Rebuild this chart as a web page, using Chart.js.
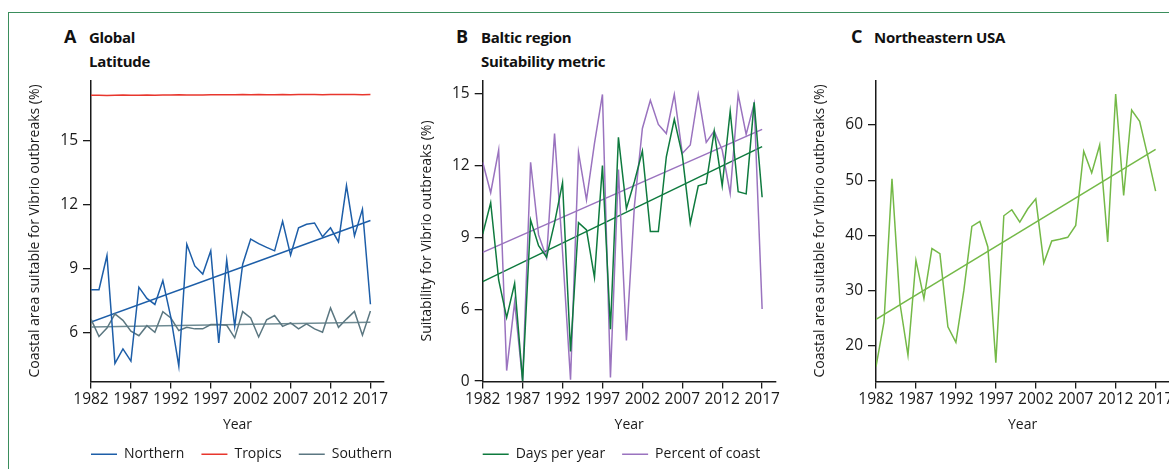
<!DOCTYPE html>
<html>
<head>
<meta charset="utf-8">
<script src="https://cdn.jsdelivr.net/npm/chart.js@4.4.0/dist/chart.umd.min.js"></script>
<style>
  body { margin:0; width:1169px; height:469px; overflow:hidden; background:#fff; position:relative; font-family:'Open Sans', sans-serif; }
  .frame { position:absolute; left:8px; top:12px; width:1300px; height:600px; border-top:1px solid #3a8d5c; border-left:1px solid #3a8d5c; }
  canvas { position:absolute; }
  .letter { position:absolute; font-weight:700; font-size:18px; line-height:18px; color:#111; }
  .head { position:absolute; font-weight:700; font-size:15px; line-height:15px; color:#111; letter-spacing:-0.3px; white-space:nowrap; }
</style>
</head>
<body>
<div class="frame"></div>

<div class="letter" style="left:64px;top:27px">A</div>
<div class="head" style="left:89px;top:30px">Global</div>
<div class="head" style="left:89px;top:54px">Latitude</div>

<div class="letter" style="left:456px;top:27px">B</div>
<div class="head" style="left:481px;top:30px">Baltic region</div>
<div class="head" style="left:481px;top:54px">Suitability metric</div>

<div class="letter" style="left:851px;top:27px">C</div>
<div class="head" style="left:874px;top:30px">Northeastern USA</div>

<canvas id="chartA" width="395" height="408" style="left:0px;top:66px"></canvas>
<canvas id="chartB" width="392" height="408" style="left:392px;top:66px"></canvas>
<canvas id="chartC" width="420" height="408" style="left:785px;top:66px"></canvas>

<script>
// years on the x axis
var years = [1982, 1983, 1984, 1985, 1986, 1987, 1988, 1989, 1990, 1991,
             1992, 1993, 1994, 1995, 1996, 1997, 1998, 1999, 2000, 2001,
             2002, 2003, 2004, 2005, 2006, 2007, 2008, 2009, 2010, 2011,
             2012, 2013, 2014, 2015, 2016, 2017];
var xTicks = [1982, 1987, 1992, 1997, 2002, 2007, 2012, 2017];
var trendYears = [1982, 2017];

// A - global, by latitude band
var northern = [8.0, 8.0, 9.61, 4.54, 5.22, 4.64, 8.12, 7.59, 7.31, 8.43,
                6.7, 4.41, 10.14, 9.12, 8.74, 9.83, 5.50, 9.40, 6.28, 9.2,
                10.38, 10.17, 9.99, 9.83, 11.22, 9.63, 10.91, 11.08, 11.14, 10.49,
                10.91, 10.25, 12.9, 10.53, 11.79, 7.32];
var tropics = [17.15, 17.15, 17.14, 17.15, 17.16, 17.15, 17.15, 17.16, 17.15, 17.16,
               17.16, 17.17, 17.16, 17.16, 17.16, 17.17, 17.17, 17.17, 17.17, 17.18,
               17.17, 17.18, 17.17, 17.17, 17.18, 17.17, 17.18, 17.18, 17.18, 17.17,
               17.18, 17.18, 17.18, 17.18, 17.17, 17.18];
var southern = [6.62, 5.80, 6.20, 6.86, 6.56, 6.05, 5.84, 6.31, 6.0, 6.97,
                6.67, 6.08, 6.23, 6.16, 6.16, 6.36, 6.36, 6.33, 5.74, 6.97,
                6.67, 5.78, 6.59, 6.79, 6.28, 6.44, 6.16, 6.39, 6.16, 6.0,
                7.14, 6.23, 6.62, 6.98, 5.86, 7.0];
var northernTrend = [6.48, 11.26];
var southernTrend = [6.25, 6.47];
var yTicksA = [6, 9, 12, 15];
var yLabelsA = ['6', '9', '12', '15'];

// B - Baltic region (bottom tick is printed as 0 in the original)
var daysPerYear = [9.14, 10.44, 7.22, 5.65, 7.08, 3.0, 9.72, 8.65, 8.17, 9.6,
                   11.28, 4.24, 9.61, 9.31, 7.33, 11.99, 5.17, 13.17, 10.2, 11.32,
                   12.6, 9.24, 9.24, 12.36, 13.92, 12.43, 9.58, 11.15, 11.25, 13.43,
                   11.15, 14.26, 10.9, 10.81, 14.63, 10.67];
var percentCoast = [12.13, 10.86, 12.64, 3.44, 6.29, 3.0, 12.13, 9.1, 8.15, 13.33,
                    8.4, 3.06, 12.54, 10.56, 12.92, 14.96, 3.15, 11.83, 4.7, 10.3,
                    13.54, 14.72, 13.71, 13.33, 14.96, 12.5, 12.85, 14.96, 12.96, 13.43,
                    12.64, 10.83, 14.96, 13.29, 14.58, 6.01];
var daysTrend = [7.15, 12.78];
var percentTrend = [8.37, 13.5];
var yTicksB = [3, 6, 9, 12, 15];
var yLabelsB = ['0', '6', '9', '12', '15'];

// C - northeastern USA
var neUSA = [16.2, 24.3, 50.24, 27.65, 18.3, 35.48, 28.55, 37.6, 36.69, 23.43,
             20.6, 30.06, 41.63, 42.53, 37.89, 16.93, 43.55, 44.64, 42.41, 44.82,
             46.63, 35.0, 38.98, 39.28, 39.64, 41.81, 55.24, 51.33, 56.39, 38.8,
             65.6, 47.23, 62.71, 60.66, 54.5, 48.01];
var neUSATrend = [24.76, 55.6];
var yTicksC = [20, 30, 40, 50, 60];
var yLabelsC = ['20', '30', '40', '50', '60'];

var ink = '#1a1a1a';
Chart.defaults.font.family = "'Open Sans', sans-serif";
Chart.defaults.color = ink;

function points(xs, ys) {
  return xs.map(function(x, i){ return {x: x, y: ys[i]}; });
}

function line(label, xs, ys, color) {
  return {
    label: label,
    data: points(xs, ys),
    borderColor: color,
    backgroundColor: color,
    borderWidth: 1.5,
    pointRadius: 0,
    tension: 0,
    fill: false
  };
}

// shifts the legend box after layout so it sits where the original has it
var legendShift = {
  id: 'legendShift',
  afterLayout: function(chart, args, opts) {
    var l = chart.legend;
    if (!l) return;
    var dx = opts.dx || 0, dy = opts.dy || 0;
    l.left += dx; l.right += dx; l.top += dy; l.bottom += dy;
  }
};

function xScale() {
  return {
    type: 'linear',
    min: 1982,
    max: 2018.7,
    afterBuildTicks: function(s){ s.ticks = xTicks.map(function(v){ return {value: v}; }); },
    afterFit: function(s){ s.height = 51.4; },
    ticks: { autoSkip: false, maxRotation: 0, minRotation: 0, padding: 2, font: {size: 15.5},
             callback: function(v){ return String(v); } },
    grid: { display: true, drawOnChartArea: false, drawTicks: true, tickLength: 7, color: ink, lineWidth: 1.3 },
    border: { display: true, color: ink, width: 1.5 },
    title: { display: true, text: 'Year', font: {size: 14}, padding: {top: 0, bottom: 0} }
  };
}

function yScale(min, max, ticks, labels, width, title) {
  return {
    type: 'linear',
    min: min,
    max: max,
    afterBuildTicks: function(s){ s.ticks = ticks.map(function(v){ return {value: v}; }); },
    afterFit: function(s){ s.width = width; },
    ticks: { padding: 5, font: {size: 15.5}, callback: function(v, i){ return labels[i]; } },
    grid: { display: true, drawOnChartArea: false, drawTicks: true, tickLength: 8, color: ink, lineWidth: 1.3 },
    border: { display: true, color: ink, width: 1.5 },
    title: { display: true, text: title, font: {size: 14}, padding: {top: 26.5, bottom: 0} }
  };
}

function legendOpts(count) {
  return {
    display: true,
    position: 'bottom',
    align: 'start',
    labels: {
      usePointStyle: true,
      pointStyle: 'line',
      pointStyleWidth: 26,
      padding: 17,
      font: {size: 14},
      filter: function(item){ return item.datasetIndex < count; }
    }
  };
}

var chartA = new Chart(document.getElementById('chartA'), {
  type: 'line',
  data: {
    datasets: [
      line('Northern', years, northern, '#1d5ea8'),
      line('Tropics', years, tropics, '#e8362d'),
      line('Southern', years, southern, '#5b7781'),
      line('Northern trend', trendYears, northernTrend, '#1d5ea8'),
      line('Southern trend', trendYears, southernTrend, '#6f8b93')
    ]
  },
  options: {
    responsive: false,
    animation: false,
    layout: { padding: {top: 14, right: 11, bottom: 0, left: 0} },
    scales: {
      x: xScale(),
      y: yScale(3.68, 17.85, yTicksA, yLabelsA, 91, 'Coastal area suitable for Vibrio outbreaks (%)')
    },
    plugins: {
      legend: legendOpts(3),
      legendShift: { dx: 74, dy: -2.7 },
      tooltip: { enabled: false }
    }
  },
  plugins: [legendShift]
});

var chartB = new Chart(document.getElementById('chartB'), {
  type: 'line',
  data: {
    datasets: [
      line('Days per year', years, daysPerYear, '#0e7a3e'),
      line('Percent of coast', years, percentCoast, '#9a73bf'),
      line('Days trend', trendYears, daysTrend, '#0e7a3e'),
      line('Percent trend', trendYears, percentTrend, '#9a73bf')
    ]
  },
  options: {
    responsive: false,
    animation: false,
    layout: { padding: {top: 14, right: 8.3, bottom: 0, left: 0} },
    scales: {
      x: xScale(),
      y: yScale(2.98, 15.55, yTicksB, yLabelsB, 90.7, 'Suitability for Vibrio outbreaks (%)')
    },
    plugins: {
      legend: legendOpts(2),
      legendShift: { dx: 73.7, dy: -2.7 },
      tooltip: { enabled: false }
    }
  },
  plugins: [legendShift]
});

var chartC = new Chart(document.getElementById('chartC'), {
  type: 'line',
  data: {
    datasets: [
      line('Northeastern USA', years, neUSA, '#74b947'),
      line('Trend', trendYears, neUSATrend, '#74b947')
    ]
  },
  options: {
    responsive: false,
    animation: false,
    layout: { padding: {top: 14, right: 35.8, bottom: 41, left: 0} },
    scales: {
      x: xScale(),
      y: yScale(13.5, 68.1, yTicksC, yLabelsC, 91, 'Coastal area suitable for Vibrio outbreaks (%)')
    },
    plugins: {
      legend: { display: false },
      tooltip: { enabled: false }
    }
  }
});
</script>
</body>
</html>
